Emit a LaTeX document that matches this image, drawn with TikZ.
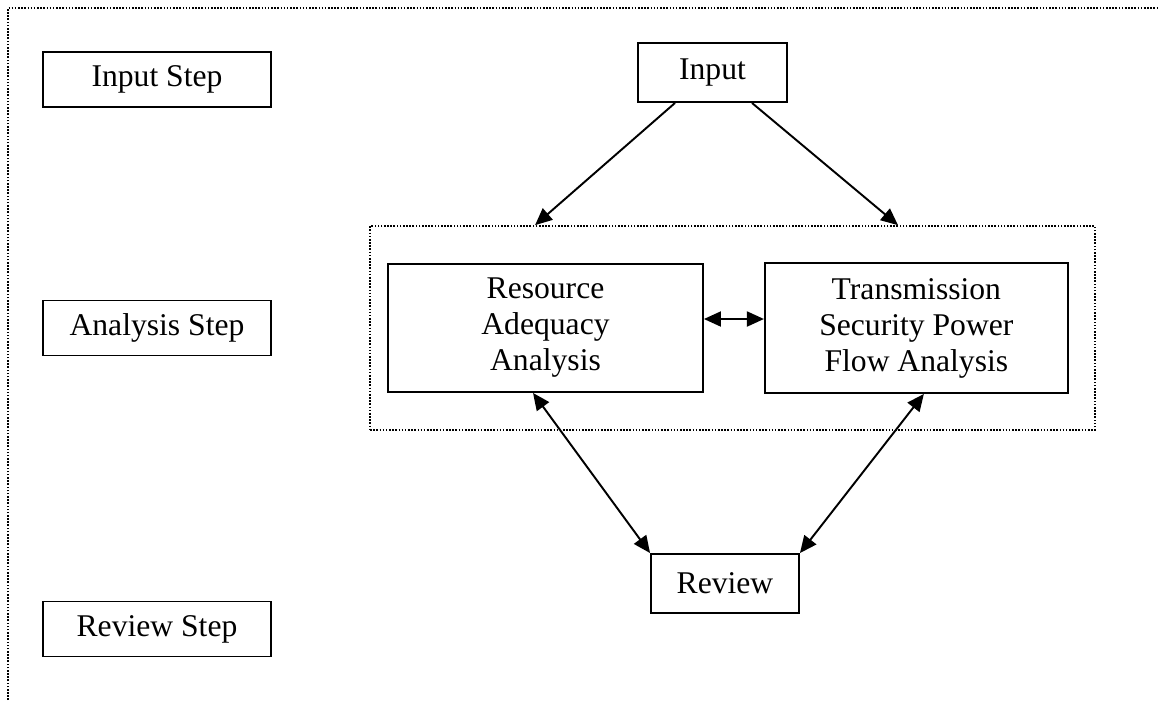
\documentclass[tikz,border=0pt]{standalone}
\usepackage{fontspec}
\setmainfont{Liberation Serif}
\usetikzlibrary{arrows.meta, positioning}
\tikzset{
	>={Triangle[length=0.34cm, width=0.3cm]},
	align=center,
	every node/.style={font=\fontsize{18}{20.5}\selectfont, inner sep=0pt},
	box/.style={draw, line width=1.1pt},
	stepbox/.style={box, minimum width=4.56cm, minimum height=1.1cm},
	group/.style={draw, line width=1pt, dash pattern=on 0.9pt off 0.9pt},
	link/.style={line width=1.1pt}
}

\begin{document}
\begin{tikzpicture}[x=0.02cm, y=-0.02cm]
	\useasboundingbox (0,0) rectangle (1158,700);
	% outer frame
	\draw[group] (8,700) -- (8,8) -- (1158,8);
	
	% steps
	\node[stepbox] (instep) at (157,79.5) {Input Step};
	\node[stepbox] (anstep) at (157,328) {Analysis Step};
	\node[stepbox] (revstep) at (157,629) {Review Step};
	
	% flow
	\node[group, minimum width=14.5cm, minimum height=4.08cm] (grp) at (732.5,328) {};
	\node[box, minimum width=2.98cm, minimum height=1.18cm] (inp) at (712.5,72.5) {Input};
	\node[box, minimum width=6.3cm, minimum height=2.56cm] (res) at (545.5,328) {Resource\\Adequacy\\Analysis};
	\node[box, minimum width=6.06cm, minimum height=2.6cm, right=1.2cm of res] (tra) {Transmission\\Security Power\\Flow Analysis};
	\node[box, minimum width=2.96cm, minimum height=1.18cm] (rev) at (725,583.5) {Review};
	
	\draw[link, ->] ([xshift=-0.75cm]inp.south) -- ([xshift=-3.95cm]grp.north);
	\draw[link, ->] ([xshift=0.79cm]inp.south) -- ([xshift=3.31cm]grp.north);
	\draw[link, <->] ([yshift=0.18cm]res.east) -- ([yshift=0.18cm]res.east -| tra.west);
	\draw[link, <->] ([xshift=-0.25cm]res.south) -- (rev.north west);
	\draw[link, <->] ([xshift=0.15cm]tra.south) -- (rev.north east);
\end{tikzpicture}
\end{document}
